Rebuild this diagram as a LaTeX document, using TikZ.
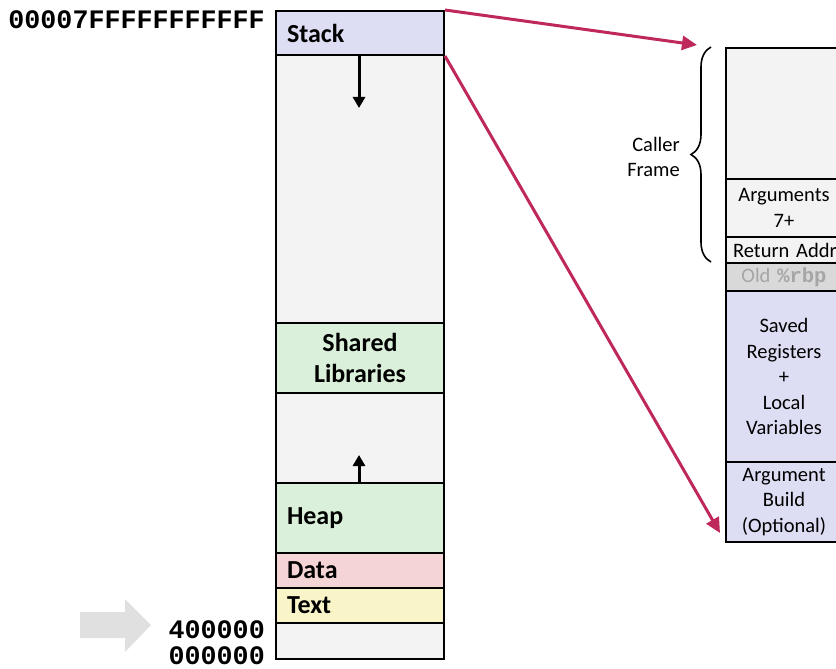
\documentclass[tikz,border=0pt]{standalone}
\usepackage{fontspec}
\setmainfont{Carlito}
\newfontfamily\monofam{Liberation Mono}
\usetikzlibrary{arrows.meta,decorations.pathreplacing}
\definecolor{stackc}{RGB}{221,221,244}
\definecolor{emptyc}{RGB}{243,243,243}
\definecolor{greenc}{RGB}{218,240,218}
\definecolor{datac}{RGB}{244,212,212}
\definecolor{textc}{RGB}{249,245,200}
\definecolor{oldc}{RGB}{217,217,217}
\definecolor{oldt}{RGB}{166,166,166}
\definecolor{redc}{RGB}{190,40,90}
\definecolor{grayarr}{RGB}{224,224,224}
\begin{document}
\begin{tikzpicture}[x=1pt,y=-1pt,
  seg/.style={draw, line width=2pt, anchor=north west, minimum width=168pt, inner sep=0pt,
    text width=146pt, font=\fontsize{26}{31}\selectfont\bfseries},
  frm/.style={draw, line width=2pt, anchor=north west, minimum width=116pt, inner sep=0pt,
    text width=112pt, align=center, font=\fontsize{20.5}{25.5}\selectfont},
  addr/.style={anchor=east, font=\fontsize{26.7}{30}\selectfont\monofam\bfseries, inner sep=0pt},
  growarr/.style={line width=3pt, -{Triangle[length=11pt,width=12pt]}},
  zoomarr/.style={redc, line width=3pt, -{Triangle[length=15pt,width=14pt]}}]
\useasboundingbox (0,0) rectangle (836,669);
% left memory layout
\node[seg, fill=stackc, minimum height=44pt, align=left] (stack) at (275,10) {Stack};
\node[seg, fill=emptyc, minimum height=268pt] (free1) at (275,54) {};
\node[seg, fill=greenc, minimum height=70pt, align=center] (shlib) at (275,322) {Shared\\Libraries};
\node[seg, fill=emptyc, minimum height=90pt] (free2) at (275,392) {};
\node[seg, fill=greenc, minimum height=70pt, align=left] (heap) at (275,482) {Heap};
\node[seg, fill=datac, minimum height=35pt, align=left] (data) at (275,552) {Data};
\node[seg, fill=textc, minimum height=35pt, align=left] (text) at (275,587) {Text};
\node[seg, fill=emptyc, minimum height=36pt] (bottom) at (275,622) {};
% growth arrows
\coordinate (sdown) at (359,108);
\coordinate (hup) at (359,455);
\draw[growarr] (stack.south -| sdown) -- (sdown);
\draw[growarr] (heap.north -| hup) -- (hup);
% addresses
\node[addr] (atop) at (265,20) {00007FFFFFFFFFFF};
\node[addr] (a4) at (265,630) {400000};
\node[addr] (a0) at (265,656) {000000};
% gray block arrow
\fill[grayarr] (80,612) -- (125,612) -- (125,599) -- (151,625) -- (125,652) -- (125,638) -- (80,638) -- cycle;
% right: stack frame
\node[frm, fill=emptyc, minimum height=131pt] (caller) at (725,47) {};
\node[frm, fill=emptyc, minimum height=58pt] (args) at (725,178) {Arguments\\7+};
\node[frm, fill=emptyc, minimum height=26pt, text width=110pt, align=left] (ret) at (725,236) {\hbox to 0pt{\hspace*{4pt}Return Address\hss}};
\node[frm, fill=oldc, minimum height=28pt, text=oldt] (oldrbp) at (725,262) {Old {\monofam\bfseries\%rbp}};
\node[frm, fill=stackc, minimum height=171pt] (saved) at (725,290) {Saved\\Registers\\+\\Local\\Variables};
\node[frm, fill=stackc, minimum height=80pt] (argb) at (725,461) {Argument\\Build\\(Optional)};
% brace
\coordinate (bb) at (711,262);
\coordinate (bt) at (711,47);
\draw[line width=1.6pt, decorate, decoration={brace, amplitude=20pt}] (bb) -- (bt);
\node[anchor=east, align=right, font=\fontsize{20.5}{25}\selectfont, inner sep=0pt] (callerlbl) at (680,157) {Caller\\Frame};
% zoom arrows
\coordinate (z1) at (697,45);
\coordinate (z2) at (720,533);
\draw[zoomarr] (stack.north east) -- (z1);
\draw[zoomarr] (stack.south east) -- (z2);
\end{tikzpicture}
\end{document}
